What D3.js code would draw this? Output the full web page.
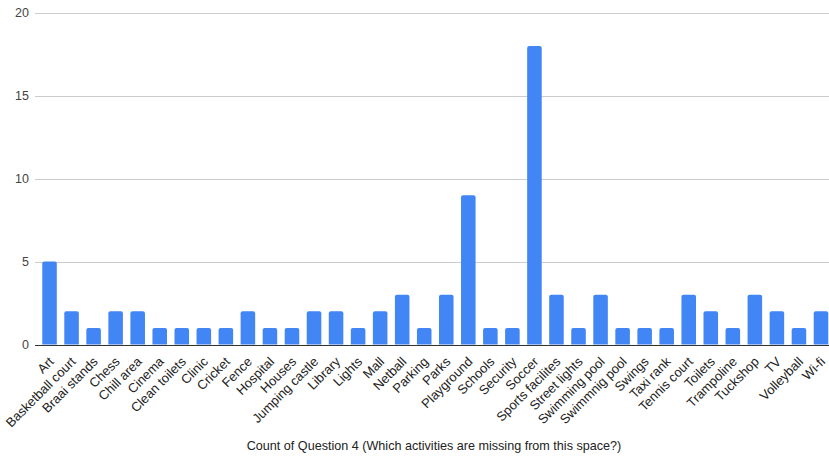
<!DOCTYPE html>
<html>
<head>
<meta charset="utf-8">
<script src="https://cdn.jsdelivr.net/npm/d3@7"></script>
<style>
  html, body { margin: 0; padding: 0; background: #fff; }
  svg { display: block; font-family: "Liberation Sans", Arial, sans-serif; }
</style>
</head>
<body>
<svg id="chart" width="829" height="457"></svg>
<script>
// Activities reported missing and how many responses named each
const activities = [
  "Art", "Basketball court", "Braai stands", "Chess", "Chill area", "Cinema",
  "Clean toilets", "Clinic", "Cricket", "Fence", "Hospital", "Houses",
  "Jumping castle", "Library", "Lights", "Mall", "Netball", "Parking",
  "Parks", "Playground", "Schools", "Security", "Soccer", "Sports facilites",
  "Street lights", "Swimming pool", "Swimmnig pool", "Swings", "Taxi rank",
  "Tennis court", "Toilets", "Trampoline", "Tuckshop", "TV", "Volleyball", "Wi-fi"
];
const counts = [
  5, 2, 1, 2, 2, 1,
  1, 1, 1, 2, 1, 1,
  2, 2, 1, 2, 3, 1,
  3, 9, 1, 1, 18, 3,
  1, 3, 1, 1, 1,
  3, 2, 1, 3, 2, 1, 2
];
const yTicks = [0, 5, 10, 15, 20];
const axisTitle = "Count of Question 4 (Which activities are missing from this space?)";

const data = activities.map((name, i) => ({ name, value: counts[i] }));

const svg = d3.select("#chart");
const plot = { left: 35, right: 832, top: 12.7, bottom: 344.5 };

const x = d3.scaleBand()
  .domain(activities)
  .range([38.5, 832])
  .paddingInner(0.34)
  .paddingOuter(0.17);

const y = d3.scaleLinear()
  .domain([0, 20])
  .range([plot.bottom, plot.top]);

// Horizontal gridlines and value labels
const grid = svg.append("g");
grid.selectAll("line")
  .data(yTicks.filter(t => t > 0))
  .join("line")
  .attr("x1", plot.left)
  .attr("x2", 829)
  .attr("y1", d => Math.round(y(d)) + 0.5)
  .attr("y2", d => Math.round(y(d)) + 0.5)
  .attr("stroke", "#cccccc")
  .attr("stroke-width", 1);

const yAxis = d3.axisLeft(y).tickValues(yTicks).tickSize(0).tickPadding(6);
svg.append("g")
  .attr("transform", `translate(${plot.left},0)`)
  .call(yAxis)
  .call(g => g.select(".domain").remove())
  .call(g => g.selectAll("text")
    .attr("fill", "#444444")
    .attr("font-size", 12.5)
    .attr("font-family", "Liberation Sans, Arial, sans-serif"));

// Bars with slightly rounded tops
const r = 2;
svg.append("g")
  .selectAll("path")
  .data(data)
  .join("path")
  .attr("fill", "#4285f4")
  .attr("d", d => {
    const x0 = x(d.name), w = x.bandwidth();
    const yt = y(d.value), yb = y(0);
    return `M${x0},${yb}V${yt + r}Q${x0},${yt} ${x0 + r},${yt}` +
      `H${x0 + w - r}Q${x0 + w},${yt} ${x0 + w},${yt + r}V${yb}Z`;
  });

// Baseline
svg.append("line")
  .attr("x1", plot.left)
  .attr("x2", 829)
  .attr("y1", Math.round(y(0)) + 0.5)
  .attr("y2", Math.round(y(0)) + 0.5)
  .attr("stroke", "#333333")
  .attr("stroke-width", 1);

// Category labels, angled
const xAxis = d3.axisBottom(x).tickSize(0).tickPadding(0);
svg.append("g")
  .attr("transform", `translate(0,${y(0)})`)
  .call(xAxis)
  .call(g => g.select(".domain").remove())
  .call(g => g.selectAll("text")
    .attr("fill", "#222222")
    .attr("font-size", 13)
    .attr("font-family", "Liberation Sans, Arial, sans-serif")
    .attr("text-anchor", "end")
    .attr("dy", null)
    .attr("y", 0)
    .attr("transform", "translate(5,18) rotate(-45)"));

// Axis title
svg.append("text")
  .attr("x", 434)
  .attr("y", 450)
  .attr("text-anchor", "middle")
  .attr("font-size", 12.6)
  .attr("fill", "#222222")
  .text(axisTitle);
</script>
</body>
</html>
